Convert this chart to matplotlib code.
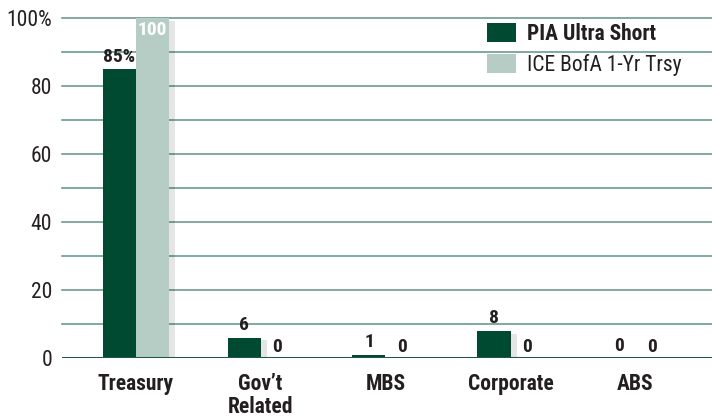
import matplotlib
matplotlib.use("Agg")
import numpy as np
import matplotlib.pyplot as plt
import matplotlib.patheffects as pe
from matplotlib.patches import Patch

plt.rcParams["font.family"] = ["Roboto Condensed", "Roboto", "DejaVu Sans"]

categories = ["Treasury", "Gov\u2019t\nRelated", "MBS", "Corporate", "ABS"]
pia = [85, 6, 1, 8, 0]
ice = [100, 0, 0, 0, 0]
pia_lbl = ["85%", "6", "1", "8", "0"]
ice_lbl = ["100", "0", "0", "0", "0"]
series = ["PIA Ultra Short", "ICE BofA 1-Yr Trsy"]

dark = "#004a32"
light = "#b5cdc5"
grid_col = "#5e937c"
txt = "#231f20"

fig = plt.figure(figsize=(7.12, 4.2), dpi=100)
ax = fig.add_axes([62 / 712, 1 - 358 / 420, 650 / 712, 340 / 420])

x = np.arange(len(categories))
w = 0.264
shadow = [pe.SimplePatchShadow(offset=(5, -2), shadow_rgbFace="#000000", alpha=0.10), pe.Normal()]

# gridlines every 10
for yv in range(10, 101, 10):
    ax.axhline(yv, color=grid_col, lw=1.1, zorder=0, clip_on=False)

ax.bar(x - w / 2, pia, w, color=dark, zorder=2, path_effects=shadow)
ax.bar(x + w / 2, ice, w, color=light, zorder=3, path_effects=shadow)

for i in range(len(categories)):
    ax.text(x[i] - w / 2, pia[i] + 1.0, pia_lbl[i], ha="center", va="bottom",
            fontsize=14, fontweight="bold", color=txt, zorder=5)
    if ice[i] >= 90:
        ax.text(x[i] + w / 2, ice[i] - 1.0, ice_lbl[i], ha="center", va="top",
                fontsize=14, fontweight="bold", color="white", zorder=5)
    else:
        ax.text(x[i] + w / 2, ice[i] + 0.5, ice_lbl[i], ha="center", va="bottom",
                fontsize=14, fontweight="bold", color=txt, zorder=5)

ax.axhline(0, color="#1f5a40", lw=2.2, zorder=4)

ax.set_xlim(-0.588, 4.612)
ax.set_ylim(0, 100)
ax.set_yticks([0, 20, 40, 60, 80, 100])
ax.set_yticklabels(["0", "20", "40", "60", "80", "100%"], fontsize=15.5, color=txt)
ax.set_xticks(x)
ax.set_xticklabels(categories, fontsize=15.5, fontweight="bold", color=txt,
                   va="top", linespacing=1.05)
ax.tick_params(axis="both", length=0)
ax.tick_params(axis="x", pad=11)
ax.tick_params(axis="y", pad=7)
for s in ax.spines.values():
    s.set_visible(False)

handles = [Patch(facecolor=dark), Patch(facecolor=light)]
leg = ax.legend(handles, series, loc="upper left", bbox_to_anchor=(0.654, 0.985),
                frameon=False, fontsize=15.5, handlelength=1.35, handleheight=1.0,
                labelspacing=0.4, handletextpad=0.5, borderpad=0, borderaxespad=0)
leg.get_texts()[0].set_fontweight("bold")
for t in leg.get_texts():
    t.set_color(txt)

fig.savefig("out.png", dpi=100)
